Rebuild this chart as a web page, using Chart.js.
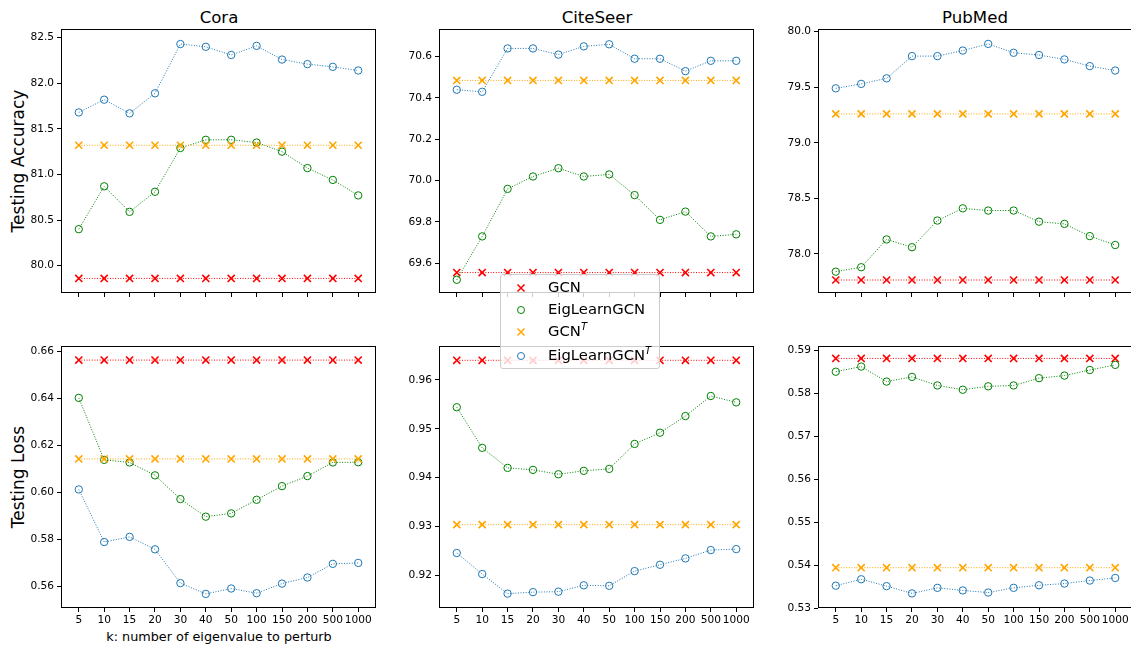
<!DOCTYPE html>
<html>
<head>
<meta charset="utf-8">
<script src="https://cdn.jsdelivr.net/npm/chart.js@4.4.0/dist/chart.umd.min.js"></script>
<style>
  body { margin: 0; width: 1131px; height: 646px; overflow: hidden; background: #fff;
         position: relative; font-family: "DejaVu Sans", sans-serif; color: #000; }
  canvas { position: absolute; }
  .txt { position: absolute; transform: translate(-50%, -50%); white-space: nowrap; line-height: 1; }
  .title { font-size: 16.6px; }
  .ylab { font-size: 17px; transform: translate(-50%, -50%) rotate(-90deg); }
  .xlab { font-size: 12.8px; }
  #legend { position: absolute; left: 500px; top: 274px; width: 158px; height: 93px;
            background: rgba(255,255,255,0.8); border: 1px solid #cccccc; border-radius: 3px; }
  .lrow { position: absolute; left: 0; height: 20px; width: 158px; font-size: 14.8px; }
  .lrow svg { position: absolute; left: 15px; top: 5px; }
  .lrow span { position: absolute; left: 47px; top: 2px; line-height: 1; white-space: nowrap; }
  .lrow sup { font-size: 10px; font-style: italic; vertical-align: 6px; line-height: 0; }
</style>
</head>
<body>

<div class="txt title" style="left:219px; top:18px;">Cora</div>
<div class="txt title" style="left:597px; top:18px;">CiteSeer</div>
<div class="txt title" style="left:975px; top:18px;">PubMed</div>
<div class="txt ylab" style="left:18px; top:161px;">Testing Accuracy</div>
<div class="txt ylab" style="left:18px; top:477px;">Testing Loss</div>
<div class="txt xlab" style="left:219px; top:637px;">k: number of eigenvalue to perturb</div>

<script>
// x categories
const kLabels = ["5", "10", "15", "20", "30", "40", "50", "100", "150", "200", "500", "1000"];
const seriesNames = ["GCN", "EigLearnGCN", "GCN^T", "EigLearnGCN^T"];

// ── Testing accuracy ──
const coraAccGCN  = [79.86, 79.86, 79.86, 79.86, 79.86, 79.86, 79.86, 79.86, 79.86, 79.86, 79.86, 79.86];
const coraAccEig  = [80.40, 80.87, 80.59, 80.81, 81.29, 81.38, 81.38, 81.35, 81.25, 81.07, 80.94, 80.77];
const coraAccGCNT = [81.32, 81.32, 81.32, 81.32, 81.32, 81.32, 81.32, 81.32, 81.32, 81.32, 81.32, 81.32];
const coraAccEigT = [81.68, 81.82, 81.67, 81.89, 82.43, 82.40, 82.31, 82.41, 82.26, 82.21, 82.18, 82.14];

const citeAccGCN  = [69.555, 69.555, 69.555, 69.555, 69.555, 69.555, 69.555, 69.555, 69.555, 69.555, 69.555, 69.555];
const citeAccEig  = [69.52, 69.73, 69.96, 70.02, 70.06, 70.02, 70.03, 69.93, 69.81, 69.85, 69.73, 69.74];
const citeAccGCNT = [70.485, 70.485, 70.485, 70.485, 70.485, 70.485, 70.485, 70.485, 70.485, 70.485, 70.485, 70.485];
const citeAccEigT = [70.44, 70.43, 70.64, 70.64, 70.61, 70.65, 70.66, 70.59, 70.59, 70.53, 70.58, 70.58];

const pubAccGCN  = [77.765, 77.765, 77.765, 77.765, 77.765, 77.765, 77.765, 77.765, 77.765, 77.765, 77.765, 77.765];
const pubAccEig  = [77.84, 77.88, 78.13, 78.06, 78.30, 78.41, 78.39, 78.39, 78.29, 78.27, 78.16, 78.08];
const pubAccGCNT = [79.26, 79.26, 79.26, 79.26, 79.26, 79.26, 79.26, 79.26, 79.26, 79.26, 79.26, 79.26];
const pubAccEigT = [79.49, 79.53, 79.58, 79.78, 79.78, 79.83, 79.89, 79.81, 79.79, 79.75, 79.69, 79.65];

// ── Testing loss ──
const coraLossGCN  = [0.6563, 0.6563, 0.6563, 0.6563, 0.6563, 0.6563, 0.6563, 0.6563, 0.6563, 0.6563, 0.6563, 0.6563];
const coraLossEig  = [0.6402, 0.6138, 0.6127, 0.6072, 0.5971, 0.5896, 0.5910, 0.5968, 0.6026, 0.6069, 0.6127, 0.6128];
const coraLossGCNT = [0.6142, 0.6142, 0.6142, 0.6142, 0.6142, 0.6142, 0.6142, 0.6142, 0.6142, 0.6142, 0.6142, 0.6142];
const coraLossEigT = [0.6012, 0.5788, 0.5810, 0.5757, 0.5613, 0.5567, 0.5590, 0.5570, 0.5611, 0.5637, 0.5695, 0.5699];

const citeLossGCN  = [0.9640, 0.9640, 0.9640, 0.9640, 0.9640, 0.9640, 0.9640, 0.9640, 0.9640, 0.9640, 0.9640, 0.9640];
const citeLossEig  = [0.9544, 0.9461, 0.9420, 0.9416, 0.9407, 0.9414, 0.9418, 0.9469, 0.9492, 0.9526, 0.9567, 0.9554];
const citeLossGCNT = [0.9304, 0.9304, 0.9304, 0.9304, 0.9304, 0.9304, 0.9304, 0.9304, 0.9304, 0.9304, 0.9304, 0.9304];
const citeLossEigT = [0.9246, 0.9203, 0.9163, 0.9166, 0.9167, 0.9180, 0.9179, 0.9209, 0.9222, 0.9235, 0.9252, 0.9254];

const pubLossGCN  = [0.5882, 0.5882, 0.5882, 0.5882, 0.5882, 0.5882, 0.5882, 0.5882, 0.5882, 0.5882, 0.5882, 0.5882];
const pubLossEig  = [0.5851, 0.5863, 0.5828, 0.5839, 0.5819, 0.5809, 0.5817, 0.5819, 0.5836, 0.5842, 0.5855, 0.5867];
const pubLossGCNT = [0.5394, 0.5394, 0.5394, 0.5394, 0.5394, 0.5394, 0.5394, 0.5394, 0.5394, 0.5394, 0.5394, 0.5394];
const pubLossEigT = [0.5352, 0.5367, 0.5351, 0.5334, 0.5347, 0.5341, 0.5336, 0.5347, 0.5353, 0.5357, 0.5364, 0.5370];

// y axis ticks and limits per panel
const coraAccTicks = [80.0, 80.5, 81.0, 81.5, 82.0, 82.5];
const citeAccTicks = [69.6, 69.8, 70.0, 70.2, 70.4, 70.6];
const pubAccTicks  = [78.0, 78.5, 79.0, 79.5, 80.0];
const coraLossTicks = [0.56, 0.58, 0.60, 0.62, 0.64, 0.66];
const citeLossTicks = [0.92, 0.93, 0.94, 0.95, 0.96];
const pubLossTicks  = [0.53, 0.54, 0.55, 0.56, 0.57, 0.58, 0.59];

const coraAccRange  = [79.70, 82.595];
const citeAccRange  = [69.456, 70.734];
const pubAccRange   = [77.648, 80.024];
const coraLossRange = [0.5507, 0.6623];
const citeLossRange = [0.91336, 0.96692];
const pubLossRange  = [0.5300, 0.5911];

// ── layout / style ──
const colors  = ["#ff0000", "#008000", "#ffa500", "#1f77b4"];
const markers = ["crossRot", "circle", "crossRot", "circle"];
const plotLeft = [61, 439, 818];
const plotTop  = [29, 346];
const plotH    = [264, 262];
const plotW    = 315;
const yAxisW = 45, xAxisH = 22, padTop = 10, padRight = 10;

const panels = [
    { row: 0, col: 0, series: [coraAccGCN, coraAccEig, coraAccGCNT, coraAccEigT], ticks: coraAccTicks, range: coraAccRange, dec: 1 },
    { row: 0, col: 1, series: [citeAccGCN, citeAccEig, citeAccGCNT, citeAccEigT], ticks: citeAccTicks, range: citeAccRange, dec: 1 },
    { row: 0, col: 2, series: [pubAccGCN, pubAccEig, pubAccGCNT, pubAccEigT], ticks: pubAccTicks, range: pubAccRange, dec: 1 },
    { row: 1, col: 0, series: [coraLossGCN, coraLossEig, coraLossGCNT, coraLossEigT], ticks: coraLossTicks, range: coraLossRange, dec: 2 },
    { row: 1, col: 1, series: [citeLossGCN, citeLossEig, citeLossGCNT, citeLossEigT], ticks: citeLossTicks, range: citeLossRange, dec: 2 },
    { row: 1, col: 2, series: [pubLossGCN, pubLossEig, pubLossGCNT, pubLossEigT], ticks: pubLossTicks, range: pubLossRange, dec: 2 },
];

// black frame around each plot area
const framePlugin = {
    id: "frame",
    afterDraw(chart) {
        const { ctx, chartArea: a } = chart;
        ctx.save();
        ctx.strokeStyle = "#000";
        ctx.lineWidth = 1;
        ctx.strokeRect(Math.round(a.left) + 0.5, Math.round(a.top) + 0.5,
                       Math.round(a.right - a.left) - 1, Math.round(a.bottom - a.top) - 1);
        ctx.restore();
    }
};

const tickFont = { family: "DejaVu Sans", size: 10.6 };

panels.forEach(p => {
    const canvas = document.createElement("canvas");
    const w = yAxisW + plotW + padRight;
    const h = padTop + plotH[p.row] + xAxisH;
    canvas.width = w;
    canvas.height = h;
    canvas.style.left = (plotLeft[p.col] - yAxisW) + "px";
    canvas.style.top = (plotTop[p.row] - padTop) + "px";
    canvas.style.width = w + "px";
    canvas.style.height = h + "px";
    document.body.appendChild(canvas);

    const datasets = p.series.map((vals, i) => ({
        label: seriesNames[i],
        data: vals.map((y, x) => ({ x, y })),
        borderColor: colors[i],
        backgroundColor: "transparent",
        borderWidth: 1,
        borderDash: [1, 1.6],
        pointStyle: markers[i],
        pointRadius: markers[i] === "circle" ? 3.7 : 5,
        pointBorderWidth: markers[i] === "circle" ? 1 : 1.6,
        pointBorderColor: colors[i],
        pointBackgroundColor: "transparent",
        order: 3 - i,
    }));

    new Chart(canvas.getContext("2d"), {
        type: "line",
        data: { datasets },
        plugins: [framePlugin],
        options: {
            responsive: false,
            animation: false,
            devicePixelRatio: 1,
            layout: { padding: { top: padTop, right: padRight, left: 0, bottom: 0 } },
            plugins: { legend: { display: false }, tooltip: { enabled: false }, title: { display: false } },
            scales: {
                x: {
                    type: "linear",
                    min: -0.7,
                    max: 11.7,
                    afterBuildTicks: s => { s.ticks = kLabels.map((_, i) => ({ value: i })); },
                    afterFit: s => { s.height = xAxisH; },
                    grid: { drawOnChartArea: false, drawTicks: true, tickLength: 4, color: "#000", lineWidth: 1 },
                    border: { display: false },
                    ticks: {
                        autoSkip: false, maxRotation: 0, padding: 2, color: "#000", font: tickFont,
                        callback: v => p.row === 1 ? kLabels[v] : ""
                    }
                },
                y: {
                    type: "linear",
                    min: p.range[0],
                    max: p.range[1],
                    afterBuildTicks: s => { s.ticks = p.ticks.map(v => ({ value: v })); },
                    afterFit: s => { s.width = yAxisW; },
                    grid: { drawOnChartArea: false, drawTicks: true, tickLength: 4, color: "#000", lineWidth: 1 },
                    border: { display: false },
                    ticks: { padding: 3, color: "#000", font: tickFont, callback: v => Number(v).toFixed(p.dec) }
                }
            }
        }
    });
});
</script>

<div id="legend">
  <div class="lrow" style="top:3px;">
    <svg width="10" height="10"><path d="M1.5 1.5 L8.5 8.5 M8.5 1.5 L1.5 8.5" stroke="#ff0000" stroke-width="1.5"/></svg>
    <span>GCN</span>
  </div>
  <div class="lrow" style="top:25px;">
    <svg width="10" height="10"><circle cx="5" cy="5" r="3.5" fill="none" stroke="#008000" stroke-width="1"/></svg>
    <span>EigLearnGCN</span>
  </div>
  <div class="lrow" style="top:47px;">
    <svg width="10" height="10"><path d="M1.5 1.5 L8.5 8.5 M8.5 1.5 L1.5 8.5" stroke="#ffa500" stroke-width="1.5"/></svg>
    <span>GCN<sup>T</sup></span>
  </div>
  <div class="lrow" style="top:71px;">
    <svg width="10" height="10"><circle cx="5" cy="5" r="3.5" fill="none" stroke="#1f77b4" stroke-width="1"/></svg>
    <span>EigLearnGCN<sup>T</sup></span>
  </div>
</div>

</body>
</html>
